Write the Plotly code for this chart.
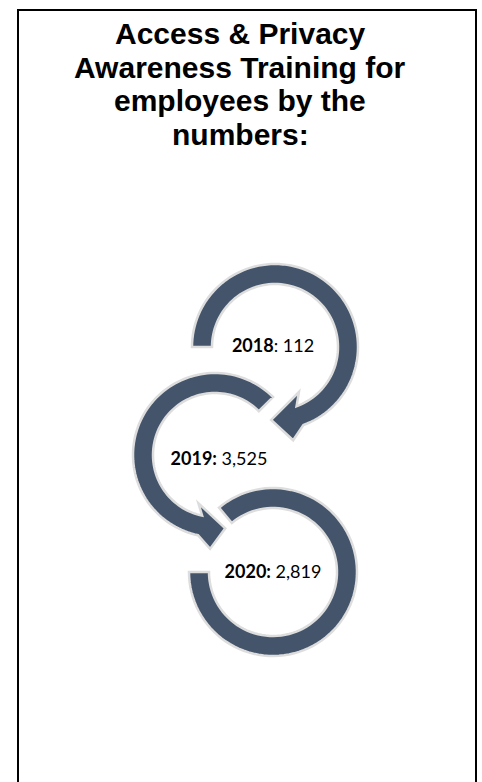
import numpy as np
import plotly.graph_objects as go

# ---------------- data ----------------
years = ["2018", "2019", "2020"]
trained = [112, 3525, 2819]
bold_colon = [False, True, True]
title_lines = ["Access & Privacy", "Awareness Training for", "employees by the", "numbers:"]

# ---------------- layout constants (pixels, y down) ----------------
W, H = 482, 782
FILL = "#44546A"
EDGE = "#DDDDDD"

ring_cx = [275, 215, 273]
ring_cy = [347, 455, 572]
ring_ro = [83, 82, 84]
ring_ri = [63, 62, 64]
label_x = [273, 219, 273]
label_y = [347, 460, 573]
title_y = [33.5, 67, 100.5, 134]


def pt(cx, cy, r, deg):
    a = np.radians(deg)
    return cx + r * np.cos(a), cy + r * np.sin(a)


def arc(cx, cy, r, a0, a1, n=90):
    return [pt(cx, cy, r, a) for a in np.linspace(a0, a1, n)]


def band_path(cx, cy, ro, ri, a0, a1, head=None):
    pts = arc(cx, cy, ro, a0, a1)
    if head:
        (rbo, abo), (rt, at), (rbi, abi) = head
        pts += [pt(cx, cy, rbo, abo), pt(cx, cy, rt, at), pt(cx, cy, rbi, abi)]
    pts += arc(cx, cy, ri, a1, a0)
    return "M " + " L ".join(f"{x:.2f},{y:.2f}" for x, y in pts) + " Z"


paths = []
# ring 1: clockwise from left, arrow at bottom
c = 0
paths.append(band_path(ring_cx[c], ring_cy[c], ring_ro[c], ring_ri[c], 180, 70,
                       head=((ring_ro[c] + 12, 79), (73, 93), (ring_ri[c] - 12, 62))))
# fix: ring 1 goes 180 -> 430 (through top)
paths[0] = band_path(ring_cx[c], ring_cy[c], ring_ro[c], ring_ri[c], 180, 430,
                     head=((ring_ro[c] + 12, 439), (73, 453), (ring_ri[c] - 12, 422)))
# ring 2: counter-clockwise from upper right, arrow at bottom
c = 1
paths.append(band_path(ring_cx[c], ring_cy[c], ring_ro[c], ring_ri[c], -45, -258,
                       head=((ring_ro[c] + 12, -267), (74, -278), (ring_ri[c] - 11, -251))))
# ring 3: counter-clockwise from left, ends upper left
c = 2
paths.append(band_path(ring_cx[c], ring_cy[c], ring_ro[c], ring_ri[c], 180, -130))

shapes = []
for p in paths:
    shapes.append(dict(type="path", path=p, xref="x", yref="y",
                       fillcolor=FILL, line=dict(color=EDGE, width=2.5), layer="below"))

# frame (left, top, right)
shapes.append(dict(type="path", path=f"M 18,{H + 20} L 18,10 L 476,10 L 476,{H + 20}",
                   xref="x", yref="y", line=dict(color="#000000", width=2)))

labels = []
for y, v, bc in zip(years, trained, bold_colon):
    if bc:
        labels.append(f"<b>{y}:</b> {v:,}")
    else:
        labels.append(f"<b>{y}</b>: {v:,}")

fig = go.Figure()
fig.add_trace(go.Scatter(x=label_x, y=label_y, mode="text", text=labels,
                         textposition="middle center",
                         textfont=dict(family="Lato", size=18, color="#000000"),
                         hoverinfo="skip", showlegend=False))

annotations = []
for line, ty in zip(title_lines, title_y):
    annotations.append(dict(x=240, y=ty, xref="x", yref="y", text=f"<b>{line}</b>",
                            showarrow=False, xanchor="center", yanchor="middle",
                            font=dict(family="Liberation Sans", size=30, color="#000000")))

fig.update_layout(
    width=W, height=H,
    margin=dict(l=0, r=0, t=0, b=0),
    paper_bgcolor="white", plot_bgcolor="white",
    xaxis=dict(range=[0, W], visible=False, fixedrange=True),
    yaxis=dict(range=[H, 0], visible=False, fixedrange=True),
    shapes=shapes, annotations=annotations,
    showlegend=False,
)

fig.write_html("out.html", config={"displayModeBar": False})
